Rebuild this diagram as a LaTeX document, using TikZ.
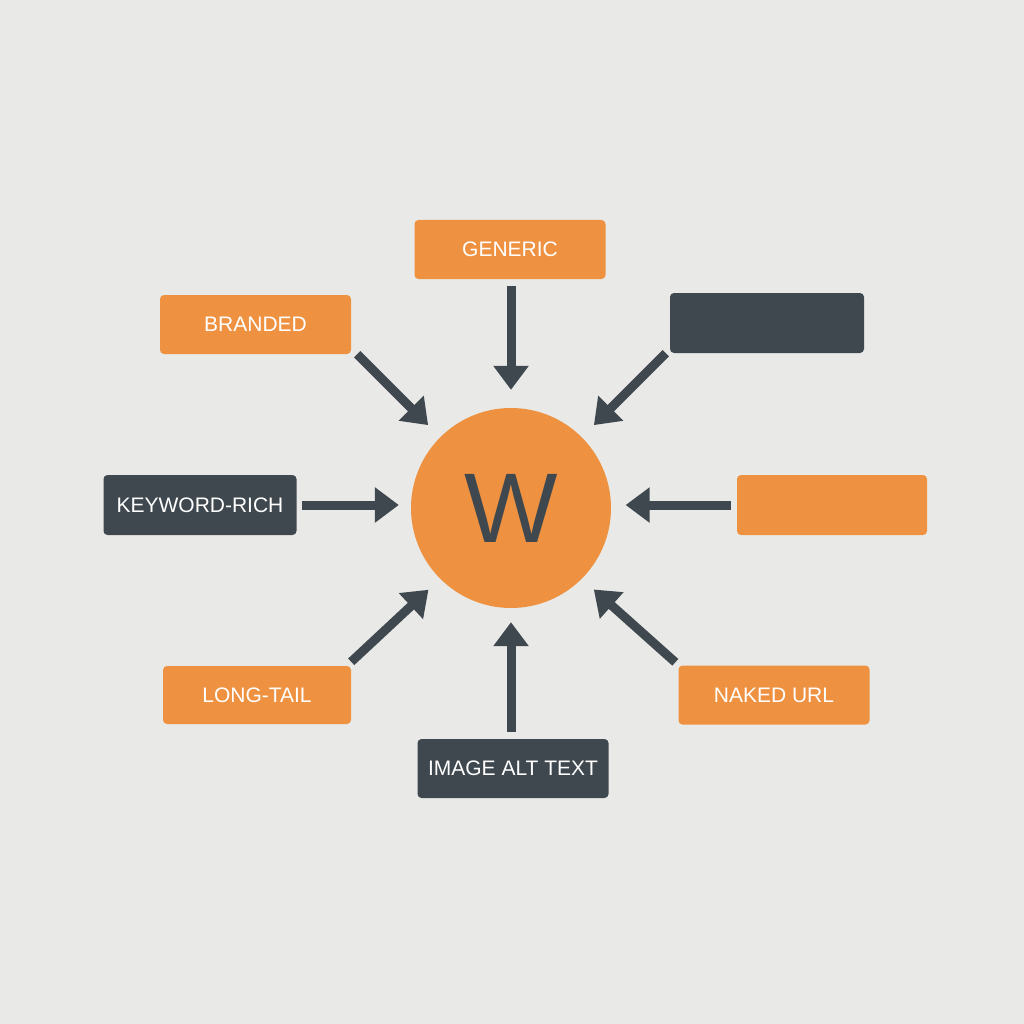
\documentclass[tikz,border=0pt]{standalone}
\usepackage{fontspec}
\setmainfont{Liberation Sans}
\usetikzlibrary{arrows.meta}
\definecolor{bg}{HTML}{E9E9E7}
\definecolor{orng}{HTML}{EE9242}
\definecolor{slate}{HTML}{3F484E}
\begin{document}
\begin{tikzpicture}[x=1pt,y=-1pt,
  box/.style={rectangle, rounded corners=4pt, minimum width=191pt, minimum height=59pt,
    text=white, font=\fontsize{21}{25}\selectfont, inner sep=0pt},
  obox/.style={box, fill=orng},
  dbox/.style={box, fill=slate},
  arr/.style={draw=slate, line width=9pt, -{Triangle[length=24pt,width=34pt]}}]
\fill[bg] (0,0) rectangle (1024,1024);
\useasboundingbox (0,0) rectangle (1024,1024);
% centre
\node[circle, fill=orng, minimum size=200pt, inner sep=0pt, text=slate,
  font=\fontsize{99}{99}\selectfont] (w) at (511,508) {W};
% boxes
\node[obox] (gen) at (510,249.5) {GENERIC};
\node[obox] (bra) at (255.5,324.5) {BRANDED};
\node[dbox, minimum width=194pt, minimum height=60pt] (unk) at (767,323) {};
\node[dbox, minimum width=193pt, minimum height=60pt] (kw) at (200,505) {KEYWORD-RICH};
\node[obox, minimum width=190pt, minimum height=60pt] (rt) at (832,505) {};
\node[obox, minimum width=188pt, minimum height=58pt] (lt) at (257,695) {LONG-TAIL};
\node[obox] (nu) at (774,695) {NAKED URL};
\node[dbox] (alt) at (513,768.5) {IMAGE ALT TEXT};
% arrows
\draw[arr, shorten <=7pt, shorten >=18pt] (gen.south -| w.north) -- (w.north);
\draw[arr, shorten >=17pt] ([xshift=6pt]bra.south east) -- (w.135);
\draw[arr, shorten >=17pt] ([xshift=-4pt]unk.south west) -- (w.45);
\draw[arr, shorten <=5.5pt, shorten >=12pt] (kw.east) -- (kw.east -| w.west);
\draw[arr, shorten <=6pt, shorten >=14.5pt] (rt.west) -- (rt.west -| w.east);
\draw[arr, shorten >=16pt] ([yshift=4pt]lt.north east) -- (w.225);
\draw[arr, shorten >=16pt] ([shift={(-3pt,3pt)}]nu.north west) -- (w.315);
\draw[arr, shorten <=7pt, shorten >=14pt] (alt.north -| w.south) -- (w.south);
\end{tikzpicture}
\end{document}
